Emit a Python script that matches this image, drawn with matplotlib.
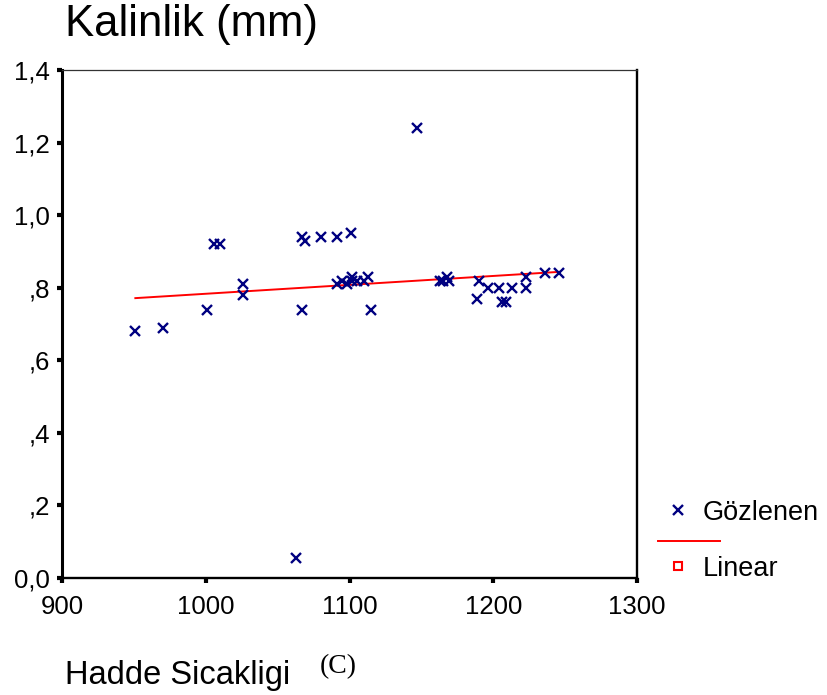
import matplotlib
matplotlib.use("Agg")
import matplotlib.pyplot as plt
from matplotlib.lines import Line2D
import numpy as np

plt.rcParams['font.family'] = ['Liberation Sans', 'DejaVu Sans']

# Hadde sicakligi vs kalinlik olcumleri
sicaklik = [951, 970, 1001, 1006, 1010, 1026, 1026, 1067, 1069, 1080,
            1091, 1101, 1067, 1091, 1095, 1098, 1102, 1102, 1105, 1110,
            1113, 1115, 1147, 1063, 1163, 1165, 1168, 1169, 1190, 1189,
            1196, 1204, 1213, 1206, 1209, 1223, 1223, 1236, 1246]
kalinlik = [0.68, 0.69, 0.74, 0.92, 0.92, 0.81, 0.78, 0.94, 0.93, 0.94,
            0.94, 0.95, 0.74, 0.81, 0.82, 0.81, 0.83, 0.82, 0.82, 0.82,
            0.83, 0.74, 1.24, 0.055, 0.82, 0.82, 0.83, 0.82, 0.82, 0.77,
            0.80, 0.80, 0.80, 0.76, 0.76, 0.83, 0.80, 0.84, 0.84]

x_ticks = [900, 1000, 1100, 1200, 1300]
y_ticks = [0.0, 0.2, 0.4, 0.6, 0.8, 1.0, 1.2, 1.4]
y_labels = ["0,0", ",2", ",4", ",6", ",8", "1,0", "1,2", "1,4"]

x = np.array(sicaklik, dtype=float)
y = np.array(kalinlik, dtype=float)
b, a = np.polyfit(x, y, 1)
xs = np.array([x.min(), x.max()])

fig = plt.figure(figsize=(8.27, 6.95), dpi=100)
ax = fig.add_axes([0.0750, 0.1683, 0.6953, 0.7309])

ax.plot(xs, a + b * xs, color="red", lw=1.4, zorder=2)
ax.plot(x, y, ls="none", marker="x", color="#000080", ms=7, mew=1.7, zorder=3)

ax.set_xlim(900, 1300)
ax.set_ylim(0, 1.4)
ax.set_xticks(x_ticks)
ax.set_yticks(y_ticks)
ax.set_yticklabels(y_labels)
ax.tick_params(axis="both", direction="out", length=3.5, width=3, labelsize=18.5,
               color="black")
ax.tick_params(axis="x", pad=9)
ax.tick_params(axis="y", pad=5)

ax.spines["left"].set_linewidth(2.2)
ax.spines["bottom"].set_linewidth(1.7)
ax.spines["right"].set_linewidth(1.7)
ax.spines["top"].set_linewidth(0.9)
ax.spines["top"].set_color("#333333")

fig.text(65 / 827, 1 - 4 / 695, "Kalinlik (mm)", fontsize=31.5, ha="left", va="top")
fig.text(65 / 827, 1 - 684 / 695, "Hadde Sicakligi", fontsize=23.5, ha="left",
         va="baseline")
fig.text(320 / 827, 1 - 673 / 695, "(C)", fontsize=20, ha="left", va="baseline",
         family="Liberation Serif")

# legend drawn by hand, SPSS style
def px(xp, yp):
    return xp / 827, 1 - yp / 695

fig.add_artist(Line2D(*zip(px(678, 510)), marker="x", color="#000080", ms=7,
                      mew=1.7, ls="none", transform=fig.transFigure))
fig.text(*px(703, 513), "Gözlenen", fontsize=19.5, va="center", ha="left")
fig.add_artist(Line2D([658 / 827, 720 / 827], [1 - 541 / 695, 1 - 541 / 695],
                      color="red", lw=1.4, transform=fig.transFigure))
fig.add_artist(Line2D(*zip(px(678, 566)), marker="s", mfc="white", mec="red",
                      ms=6, mew=1.5, ls="none", transform=fig.transFigure))
fig.text(*px(703, 569), "Linear", fontsize=19.5, va="center", ha="left")

fig.savefig("out.png", dpi=100)
